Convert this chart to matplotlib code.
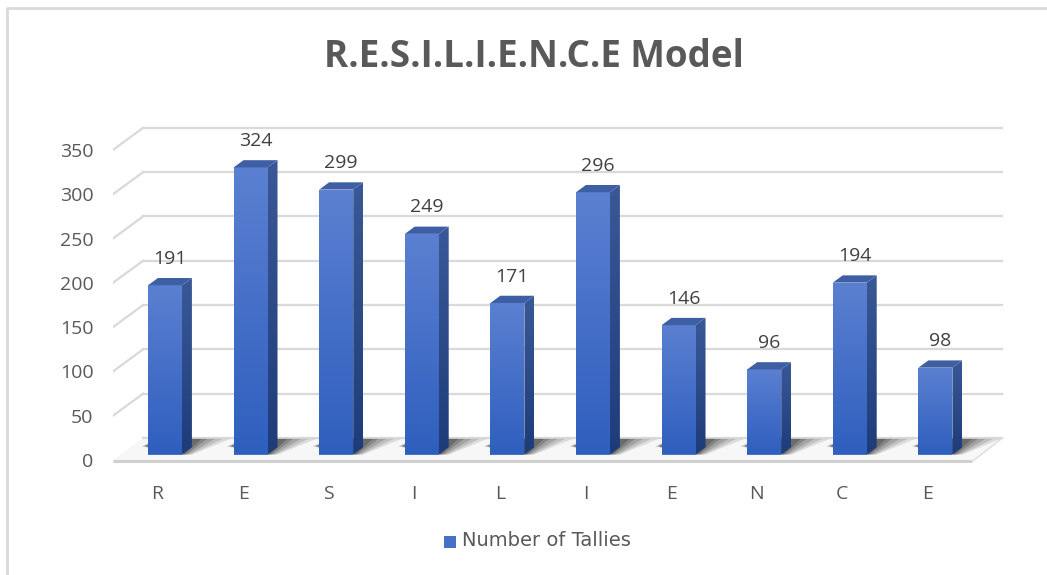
import numpy as np
import matplotlib
matplotlib.use('Agg')
import matplotlib.pyplot as plt
from matplotlib.patches import Polygon
from matplotlib.lines import Line2D
import matplotlib.colors as mcolors

# chart data
letters = ['R', 'E', 'S', 'I', 'L', 'I', 'E', 'N', 'C', 'E']
tallies = [191, 324, 299, 249, 171, 296, 146, 96, 194, 98]
y_ticks = [0, 50, 100, 150, 200, 250, 300, 350]
series_name = 'Number of Tallies'
title = 'R.E.S.I.L.I.E.N.C.E Model'

W, H = 1047, 575
fig = plt.figure(figsize=(W / 100, H / 100), dpi=100)

# pixel scale of the front plane
px_x = 85.6      # pixels per category
px_y = 0.886     # pixels per tally unit
x_lo, x_hi = -0.52, 9.52
y_top = 400

ax_left = 113
ax_w = (9.95 - x_lo) * px_x
ax_bottom = H - 460
ax_h = y_top * px_y
ax = fig.add_axes([ax_left / W, ax_bottom / H, ax_w / W, ax_h / H])
ax.set_xlim(x_lo, 9.95)
ax.set_ylim(0, y_top)

# depth of the 3d box, in data units
Dx, Dy = 30 / px_x, 22 / px_y
f0, fd = 0.25, 0.33          # bar front position / bar depth (fraction of box depth)
ox, oy = f0 * Dx, f0 * Dy
sx, sy = fd * Dx, fd * Dy
bw = 34 / px_x

grid_c = '#d9d9d9'

# floor
floor = Polygon([(x_lo, 0), (x_hi, 0), (x_hi + Dx, Dy), (x_lo + Dx, Dy)],
                closed=True, facecolor='#f7f7f7', edgecolor='none', zorder=1)
ax.add_patch(floor)
ax.plot([x_lo, x_hi], [-1.5, -1.5], color='#d0d0d0', lw=2.2, zorder=2,
        solid_capstyle='butt', clip_on=False)
ax.plot([x_hi, x_hi + Dx], [-1.5, Dy], color='#e0e0e0', lw=1.2, zorder=2, clip_on=False)

# back wall gridlines + side diagonals
for t in y_ticks:
    ax.plot([x_lo + Dx, x_hi + Dx], [t + Dy, t + Dy], color=grid_c, lw=1.6, zorder=1)
    if t > 0:
        ax.plot([x_lo, x_lo + Dx], [t, t + Dy], color=grid_c, lw=1.6, zorder=1)

# bar shadows on the floor (stacked translucent layers, a cheap blur)
for i, v in enumerate(tallies):
    xl = i + ox - bw / 2
    xr = i + ox + bw / 2
    for k, a in zip([1.0, 0.8, 0.6, 0.4, 0.25], [0.12, 0.15, 0.18, 0.22, 0.26]):
        L = 0.45 * k
        shp = Polygon([(xl - 0.08 * k, oy + sy + 1), (xr, oy), (xr + 0.12 * k, oy),
                       (xr + sx + L, Dy - 1), (xl + sx, Dy - 1)],
                      closed=True, facecolor='#202020', alpha=a, edgecolor='none', zorder=2)
        ax.add_patch(shp)


def grad_fill(patch, c_top, c_bot, y0, y1, x0, x1, z):
    cmap = mcolors.LinearSegmentedColormap.from_list('g', [c_bot, c_top])
    g = np.linspace(0, 1, 64).reshape(-1, 1)
    im = ax.imshow(g, cmap=cmap, extent=[x0, x1, y0, y1], origin='lower',
                   aspect='auto', zorder=z, interpolation='bilinear')
    im.set_clip_path(patch)


# bars: front faces from ax.bar, sides/tops drawn on top of them
x = np.arange(len(tallies))
bars = ax.bar(x + ox, tallies, width=bw, bottom=oy, color='#4472c4',
              edgecolor='none', zorder=3)
for i, (b, v) in enumerate(zip(bars, tallies)):
    xl = b.get_x()
    xr = xl + bw
    yt = oy + v
    grad_fill(b, '#5b80d1', '#2f5fbe', oy, yt, xl, xr, 3.1)
    side = Polygon([(xr, oy), (xr + sx, oy + sy), (xr + sx, yt + sy), (xr, yt)],
                   closed=True, facecolor='none', edgecolor='none', zorder=3)
    ax.add_patch(side)
    grad_fill(side, '#3a5897', '#1f3c7a', oy, yt + sy, xr, xr + sx, 3.2)
    top = Polygon([(xl, yt), (xr, yt), (xr + sx, yt + sy), (xl + sx, yt + sy)],
                  closed=True, facecolor='#3f5fa5', edgecolor='none', zorder=3.3)
    ax.add_patch(top)
    ax.annotate(str(v), (i + ox + sx / 2, yt), xytext=(0, 19), textcoords='offset points',
                ha='center', va='center', fontsize=14, color='#404040',
                family='Open Sans', zorder=5)

ax.set_xlim(x_lo, 9.95)
ax.set_ylim(0, y_top)

ax.set_yticks(y_ticks)
ax.set_yticklabels([str(t) for t in y_ticks], family='Open Sans', fontsize=14, color='#595959')
ax.set_xticks(x)
ax.set_xticklabels(letters, family='Open Sans', fontsize=14, color='#595959')
ax.tick_params(axis='y', length=0, pad=14)
ax.tick_params(axis='x', length=0, pad=18)
for s in ax.spines.values():
    s.set_visible(False)
ax.patch.set_visible(False)

# title
fig.text(534 / W, 1 - 57 / H, title, ha='center', va='center', fontsize=26.5,
         fontweight='bold', family='Open Sans', color='#595959')

# legend
fig.patches.append(Polygon([(444 / W, 1 - 536 / H), (456 / W, 1 - 536 / H),
                            (456 / W, 1 - 548 / H), (444 / W, 1 - 548 / H)],
                           closed=True, transform=fig.transFigure,
                           facecolor='#4472c4', edgecolor='none'))
fig.text(462 / W, 1 - 541 / H, series_name, ha='left', va='center', fontsize=14,
         family='DejaVu Sans', color='#595959')

# chart frame (left and top edges visible)
fig.lines.append(Line2D([6.5 / W, 6.5 / W, 1.0], [0, 1 - 8 / H, 1 - 8 / H],
                        transform=fig.transFigure, color='#d9d9d9', lw=2))

fig.savefig('out.png', dpi=100, facecolor='white')
